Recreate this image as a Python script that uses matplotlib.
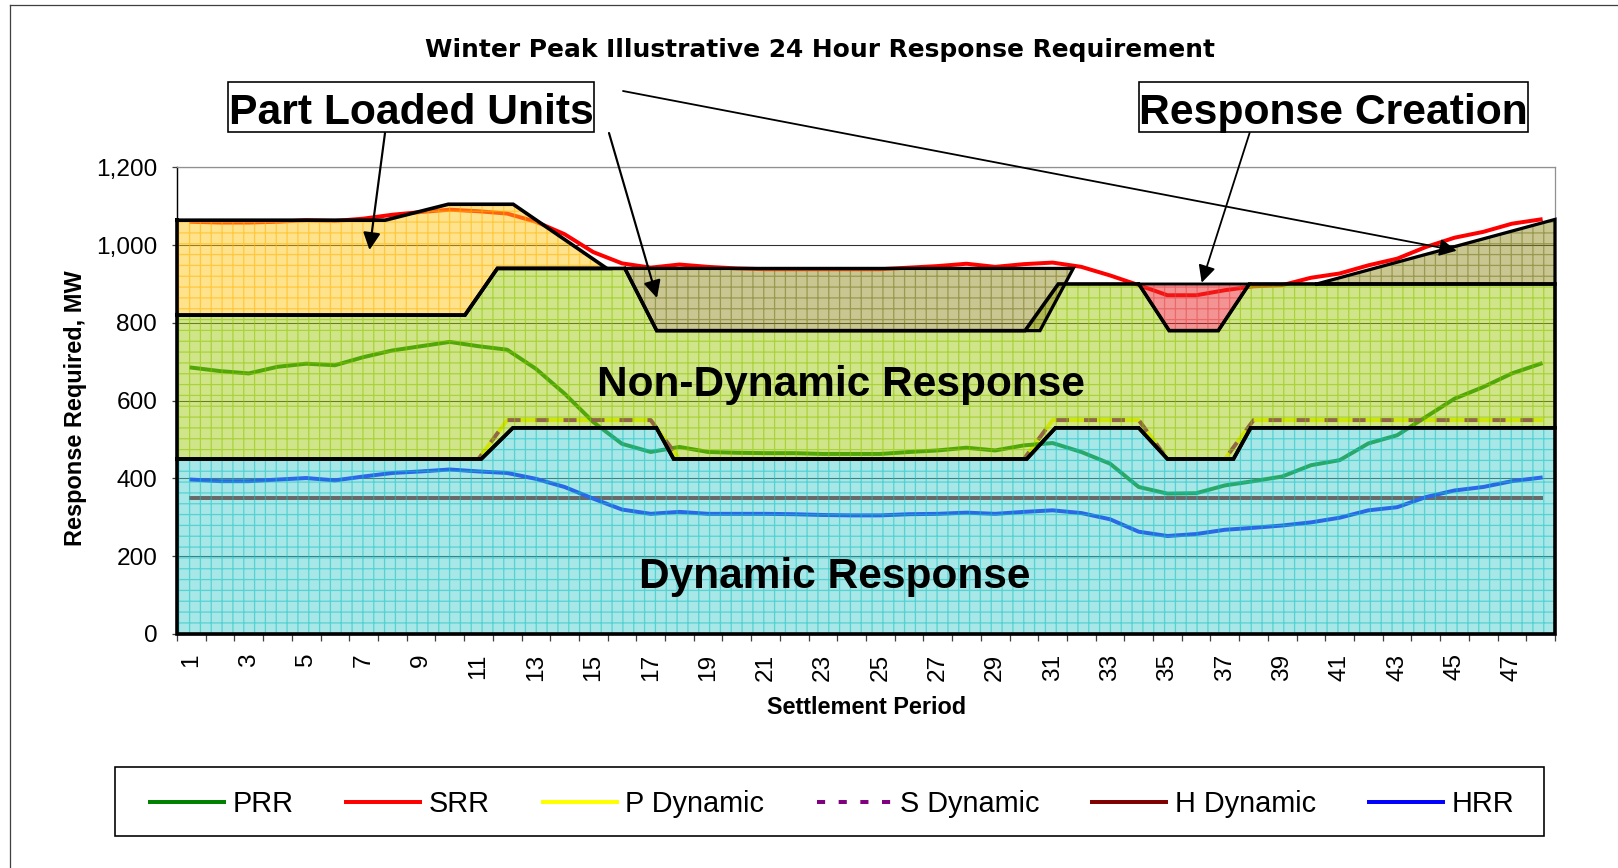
import numpy as np
import matplotlib
matplotlib.use('Agg')
import matplotlib.pyplot as plt
from matplotlib.lines import Line2D
from matplotlib.patches import Rectangle

plt.rcParams['font.family'] = ['Liberation Sans', 'DejaVu Sans']
plt.rcParams['hatch.linewidth'] = 0.7
plt.rcParams['lines.scale_dashes'] = False

# ---------------- data ----------------
periods = list(range(1, 49))
xtick_labels = [str(p) for p in range(1, 48, 2)]
ytick_values = [0, 200, 400, 600, 800, 1000, 1200]
ytick_labels = ['0', '200', '400', '600', '800', '1,000', '1,200']

PRR = [685, 676, 670, 687, 695, 691, 712, 729, 740, 751, 740, 731, 682, 618, 545, 489,
       468, 481, 468, 466, 465, 465, 463, 463, 463, 468, 472, 479, 472, 485, 491, 468,
       438, 378, 361, 362, 382, 393, 405, 434, 447, 490, 511, 558, 605, 635, 670, 695]
SRR = [1060, 1058, 1058, 1060, 1064, 1062, 1068, 1078, 1085, 1091, 1087, 1081, 1060, 1028, 982, 953,
       942, 950, 944, 940, 938, 938, 938, 938, 938, 942, 946, 952, 944, 951, 955, 944,
       922, 897, 871, 871, 884, 894, 897, 916, 927, 948, 965, 995, 1019, 1034, 1055, 1066]
P_DYN = [450, 450, 450, 450, 450, 450, 450, 450, 450, 450, 450, 550, 550, 550, 550, 550,
         550, 450, 450, 450, 450, 450, 450, 450, 450, 450, 450, 450, 450, 450, 550, 550,
         550, 550, 450, 450, 450, 550, 550, 550, 550, 550, 550, 550, 550, 550, 550, 550]
S_DYN = [450, 450, 450, 450, 450, 450, 450, 450, 450, 450, 450, 550, 550, 550, 550, 550,
         550, 450, 450, 450, 450, 450, 450, 450, 450, 450, 450, 450, 450, 450, 550, 550,
         550, 550, 450, 450, 450, 550, 550, 550, 550, 550, 550, 550, 550, 550, 550, 550]
H_DYN = [350, 350, 350, 350, 350, 350, 350, 350, 350, 350, 350, 350, 350, 350, 350, 350,
         350, 350, 350, 350, 350, 350, 350, 350, 350, 350, 350, 350, 350, 350, 350, 350,
         350, 350, 350, 350, 350, 350, 350, 350, 350, 350, 350, 350, 350, 350, 350, 350]
HRR = [397, 393, 393, 397, 401, 395, 405, 414, 418, 423, 418, 414, 399, 378, 348, 320,
       309, 314, 309, 309, 309, 308, 306, 305, 305, 308, 309, 312, 309, 314, 318, 311,
       295, 263, 252, 257, 268, 273, 279, 287, 299, 318, 326, 352, 369, 378, 393, 402]

# shaded regions (boundary break points, settlement-period units)
DYN_X = [0.5, 11.1, 12.2, 17.2, 17.8, 30.1, 31.1, 34.0, 35.0, 37.3, 37.9, 48.5]
DYN_Y = [450, 450, 530, 530, 450, 450, 530, 530, 450, 450, 530, 530]
NONDYN_X = [0.5, 10.53, 11.66, 16.1, 17.21, 30.04, 31.2, 34.0, 35.06, 36.77, 37.85, 48.5]
NONDYN_Y = [820, 820, 940, 940, 780, 780, 900, 900, 780, 780, 900, 900]
PLU_TOP_X = [0.5, 7.75, 9.95, 12.21, 15.47]
PLU_TOP_Y = [1064, 1064, 1105, 1105, 940]
PLU_MID_X = [16.1, 17.21, 30.56, 31.72]
PLU_MID_Y = [940, 780, 780, 940]
PLU_END_X = [40.2, 48.5, 48.5]
PLU_END_Y = [900, 1066, 900]
RC_X = [34.0, 35.06, 36.77, 37.85]
RC_Y = [900, 780, 780, 900]

# ---------------- figure ----------------
W, H, DPI = 1618, 868, 130
fig = plt.figure(figsize=(W / DPI, H / DPI), dpi=DPI)
fig.patch.set_facecolor('white')


def fx(x):
    return x / W


def fy(y):
    return 1 - y / H


ax = fig.add_axes([fx(177), fy(634), (1555 - 177) / W, (634 - 167.3) / H])
ax.set_xlim(0.5, 48.5)
ax.set_ylim(0, 1200)

# lines (drawn beneath the translucent areas)
ax.plot(periods, H_DYN, color='#800000', lw=2.2, zorder=2)
ax.plot(periods, P_DYN, color='#FFFF00', lw=2.2, zorder=2)
ax.plot(periods, S_DYN, color='#800080', lw=2.2, dashes=(7.2, 8.3), zorder=2.1)
ax.plot(periods, HRR, color='#0000FF', lw=2.2, zorder=2)
ax.plot(periods, PRR, color='#008000', lw=2.2, zorder=2)
ax.plot(periods, SRR, color='#FF0000', lw=2.2, zorder=2)


def segment(xs, ys, x0, x1):
    xs = np.asarray(xs, float)
    ys = np.asarray(ys, float)
    inner = (xs > x0) & (xs < x1)
    bx = np.r_[x0, xs[inner], x1]
    return bx, np.interp(bx, xs, ys)


def region(px, py, face, hatchc, lw=2.0, z=3):
    px = np.asarray(px, float)
    py = np.asarray(py, float)
    ax.fill(px, py, facecolor=face, edgecolor=hatchc, hatch='++', lw=0, zorder=z)
    ax.plot(np.r_[px, px[0]], np.r_[py, py[0]], color='black', lw=lw,
            solid_joinstyle='miter', zorder=z + 1, clip_on=False)


CYAN = ((0.32, 0.82, 0.82, 0.5), (0.08, 0.76, 0.76, 0.55))
GREEN = ((0.64, 0.80, 0.08, 0.5), (0.55, 0.77, 0.0, 0.55))
YELLOW = ((1.0, 0.78, 0.10, 0.5), (1.0, 0.71, 0.0, 0.55))
OLIVE = ((0.58, 0.56, 0.14, 0.5), (0.45, 0.46, 0.10, 0.55))
RED = ((0.92, 0.16, 0.16, 0.5), (0.89, 0.28, 0.28, 0.55))

# dynamic
region(np.r_[DYN_X, 48.5, 0.5], np.r_[DYN_Y, 0, 0], *CYAN)
# non-dynamic
region(np.r_[NONDYN_X, np.asarray(DYN_X)[::-1]], np.r_[NONDYN_Y, np.asarray(DYN_Y)[::-1]], *GREEN)
# part loaded (left)
bx, by = segment(NONDYN_X, NONDYN_Y, PLU_TOP_X[0], PLU_TOP_X[-1])
region(np.r_[PLU_TOP_X, bx[::-1]], np.r_[PLU_TOP_Y, by[::-1]], *YELLOW)
# part loaded (middle / end)
region(PLU_MID_X, PLU_MID_Y, *OLIVE, lw=1.8, z=3.2)
region(PLU_END_X, PLU_END_Y, *OLIVE, lw=1.8, z=3.2)
# response creation
region(RC_X, RC_Y, *RED, lw=1.6, z=3.2)

# axes styling
ax.set_yticks(ytick_values)
ax.set_yticklabels(ytick_labels)
ax.set_xticks(list(range(1, 48, 2)))
ax.set_xticklabels(xtick_labels, rotation=90)
ax.set_xticks(np.arange(0.5, 48.6, 1.0), minor=True)
ax.tick_params(axis='x', which='major', length=0, pad=10.8, labelsize=13.5)
ax.tick_params(axis='x', which='minor', length=3.7, width=0.7, color='#404040')
ax.tick_params(axis='y', length=3, width=0.7, color='#404040', pad=8, labelsize=13.5)
ax.yaxis.grid(True, color='#303030', lw=0.6)
ax.set_axisbelow(True)
for s in ('top', 'right'):
    ax.spines[s].set_color('#909090')
    ax.spines[s].set_linewidth(0.7)
for s in ('left', 'bottom'):
    ax.spines[s].set_color('black')
    ax.spines[s].set_linewidth(0.8)

fig.text(fx(76), fy(408.6), 'Response Required, MW', rotation=90, ha='center', va='center',
         fontsize=13, fontweight='bold')
fig.text(fx(867), fy(707), 'Settlement Period', ha='center', va='center',
         fontsize=13, fontweight='bold')

# title and annotations
fig.text(fx(820), fy(57.5), 'Winter Peak Illustrative 24 Hour Response Requirement',
         ha='center', va='baseline', fontsize=13.8, fontweight='bold', family='DejaVu Sans')
fig.text(fx(841), fy(395.7), 'Non-Dynamic Response', ha='center', va='baseline',
         fontsize=23.5, fontweight='bold', zorder=10)
fig.text(fx(835), fy(588), 'Dynamic Response', ha='center', va='baseline',
         fontsize=23.5, fontweight='bold', zorder=10)

for label, (x0, x1) in (('Part Loaded Units', (228, 594)), ('Response Creation', (1139.2, 1528.3))):
    fig.add_artist(Rectangle((fx(x0), fy(132)), (x1 - x0) / W, (132 - 82.5) / H,
                             transform=fig.transFigure, fc='white', ec='black', lw=0.9, zorder=9))
    fig.text(fx((x0 + x1) / 2), fy(124), label, ha='center', va='baseline',
             fontsize=23.6, fontweight='bold', zorder=10)

arrows = [((385, 133), (369.5, 250), 1.2),
          ((609, 133), (657, 298), 1.2),
          ((623, 91), (1456.7, 250.7), 1.0),
          ((1249.6, 133), (1201.7, 282.7), 1.0)]
for (x0, y0), (x1, y1), alw in arrows:
    ax.annotate('', xy=(x1, H - y1), xytext=(x0, H - y0), xycoords='figure pixels',
                textcoords='figure pixels', annotation_clip=False, zorder=12,
                arrowprops=dict(arrowstyle='-|>', color='black', lw=alw,
                                mutation_scale=20, shrinkA=0, shrinkB=0))

# legend
handles = [Line2D([], [], color='#008000', lw=2.2),
           Line2D([], [], color='#FF0000', lw=2.2),
           Line2D([], [], color='#FFFF00', lw=2.2),
           Line2D([], [], color='#800080', lw=2.2, dashes=(4.5, 7.5)),
           Line2D([], [], color='#800000', lw=2.2),
           Line2D([], [], color='#0000FF', lw=2.2)]
labels = ['PRR', 'SRR', 'P Dynamic', 'S Dynamic', 'H Dynamic', 'HRR']
fig.legend(handles, labels, loc='center', bbox_to_anchor=(fx(832), fy(804.5)), ncol=6,
           frameon=False, fontsize=16, handlelength=2.56, handletextpad=0.29,
           columnspacing=1.84, borderaxespad=0, borderpad=0)
fig.add_artist(Rectangle((fx(114.5), fy(836)), (1544 - 114.5) / W, (836 - 767) / H,
                         transform=fig.transFigure, fill=False, ec='black', lw=0.9))

# outer chart border
fig.add_artist(Line2D([fx(10.3), 1.0], [fy(5.2), fy(5.2)], transform=fig.transFigure,
                      color='#404040', lw=0.7))
fig.add_artist(Line2D([fx(10.3), fx(10.3)], [fy(5.2), 0.0], transform=fig.transFigure,
                      color='#404040', lw=0.7))

fig.savefig('out.png', dpi=DPI)
